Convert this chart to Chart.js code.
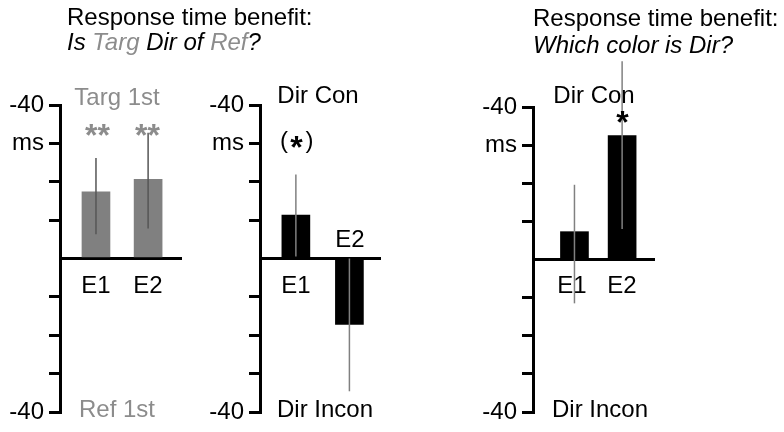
<!DOCTYPE html>
<html>
<head>
<meta charset="utf-8">
<script src="https://cdn.jsdelivr.net/npm/chart.js@4"></script>
<style>
    html, body { margin: 0; padding: 0; background: #fff; }
    #wrap { position: relative; width: 784px; height: 432px; }
    canvas { position: absolute; left: 0; top: 0; }
</style>
</head>
<body>
<div id="wrap">
    <canvas id="p1" width="784" height="432"></canvas>
    <canvas id="p2" width="784" height="432"></canvas>
    <canvas id="p3" width="784" height="432"></canvas>
</div>
<script>
const categories = ['E1', 'E2'];

// panel 1 - Is Targ Dir of Ref?
const targRefMeans = [17.4, 20.6];
const targRefLow = [6.3, 7.8];
const targRefHigh = [26.2, 32.8];

// panel 2 - Dir Con / Dir Incon
const dirMeans = [11.3, -17.2];
const dirLow = [0.5, -34.6];
const dirHigh = [21.9, 0];

// panel 3 - Which color is Dir?
const colorMeans = [7.3, 32.5];
const colorLow = [-11.5, 8.0];
const colorHigh = [19.6, 52.0];

const yTickValues = [40, 30, -40];
const yTickTexts = ['-40', 'ms', '-40'];

(function () {
    "use strict";

    const FONT = '"Liberation Sans", Arial, sans-serif';
    const GRAY = '#8c8c8c';

    // draws error bars and all the free text of a panel
    const panelDecor = {
        id: 'panelDecor',
        afterDraw(chart, args, o) {
            let ctx = chart.ctx;
            let y = chart.scales.y;
            let meta = chart.getDatasetMeta(0);
            ctx.save();
            ctx.strokeStyle = o.errColor;
            ctx.lineWidth = 1.5;
            meta.data.forEach((bar, i) => {
                ctx.beginPath();
                ctx.moveTo(bar.x, y.getPixelForValue(o.low[i]));
                ctx.lineTo(bar.x, y.getPixelForValue(o.high[i]));
                ctx.stroke();
            });

            ctx.textBaseline = 'alphabetic';
            o.texts.forEach(t => {
                let parts = t.parts || [[t.t, t.color || '#000']];
                ctx.font = (t.bold ? 'bold ' : '') + (t.italic ? 'italic ' : '') + (t.size || 24) + 'px ' + FONT;
                let total = parts.reduce((s, p) => s + ctx.measureText(p[0]).width, 0);
                let x = t.align === 'left' ? t.x : t.x - total / 2;
                ctx.textAlign = 'left';
                parts.forEach(p => {
                    ctx.fillStyle = p[1];
                    ctx.fillText(p[0], x, t.y);
                    x += ctx.measureText(p[0]).width;
                });
            });
            ctx.restore();
        }
    };

    function makePanel(canvasId, cfg) {
        return new Chart(document.getElementById(canvasId), {
            type: 'bar',
            data: {
                labels: categories,
                datasets: [{
                    data: cfg.means.map((v, i) => ({ x: i, y: v })),
                    backgroundColor: cfg.barColor,
                    borderWidth: 0,
                    barThickness: 28
                }]
            },
            options: {
                animation: false,
                responsive: false,
                layout: {
                    padding: { left: cfg.axisX - 60, right: 784 - cfg.endX, top: cfg.top, bottom: 20 }
                },
                plugins: {
                    legend: { display: false },
                    tooltip: { enabled: false },
                    panelDecor: { low: cfg.low, high: cfg.high, errColor: cfg.errColor, texts: cfg.texts }
                },
                scales: {
                    x: {
                        type: 'linear',
                        min: cfg.xMin,
                        max: cfg.xMax,
                        offset: false,
                        display: false
                    },
                    y: {
                        min: -40,
                        max: 40,
                        z: 1,
                        afterFit: s => { s.width = 60; },
                        border: { display: true, color: '#000', width: 3 },
                        grid: {
                            drawOnChartArea: true,
                            color: c => (c.tick && c.tick.value === 0) ? '#000' : 'rgba(0,0,0,0)',
                            lineWidth: 3,
                            tickColor: c => (c.tick && c.tick.value === 0) ? 'rgba(0,0,0,0)' : '#000',
                            tickLength: 11,
                            tickWidth: 3
                        },
                        ticks: {
                            stepSize: 10,
                            autoSkip: false,
                            padding: 5,
                            color: '#000',
                            font: { family: FONT, size: 24 },
                            callback: v => {
                                let k = yTickValues.indexOf(v);
                                return k >= 0 ? yTickTexts[k] : '';
                            }
                        }
                    }
                }
            },
            plugins: [panelDecor]
        });
    }

    makePanel('p1', {
        means: targRefMeans, low: targRefLow, high: targRefHigh,
        barColor: '#808080', errColor: '#555555',
        axisX: 60, endX: 182, top: 105, xMin: -0.69, xMax: 1.65,
        texts: [
            { t: 'Response time benefit:', x: 67, y: 25, align: 'left' },
            { parts: [['Is ', '#000'], ['Targ', GRAY], [' Dir of ', '#000'], ['Ref', GRAY], ['?', '#000']],
              x: 67, y: 50, align: 'left', italic: true },
            { t: 'Targ 1st', x: 117, y: 105, color: GRAY },
            { t: '**', x: 97.5, y: 146, color: GRAY, size: 32, bold: true },
            { t: '**', x: 147.5, y: 146, color: GRAY, size: 32, bold: true },
            { t: 'E1', x: 96, y: 293 },
            { t: 'E2', x: 148, y: 293 },
            { t: 'Ref 1st', x: 117, y: 417, color: GRAY }
        ]
    });

    makePanel('p2', {
        means: dirMeans, low: dirLow, high: dirHigh,
        barColor: '#000000', errColor: '#808080',
        axisX: 260, endX: 381, top: 105, xMin: -0.67, xMax: 1.59,
        texts: [
            { t: 'Dir Con', x: 318, y: 103 },
            { t: '(', x: 284, y: 148 },
            { t: '*', x: 296.5, y: 158, size: 32, bold: true },
            { t: ')', x: 309.5, y: 148 },
            { t: 'E1', x: 296, y: 293 },
            { t: 'E2', x: 350, y: 247 },
            { t: 'Dir Incon', x: 325, y: 417 }
        ]
    });

    makePanel('p3', {
        means: colorMeans, low: colorLow, high: colorHigh,
        barColor: '#000000', errColor: '#808080',
        axisX: 533, endX: 655, top: 107, xMin: -0.87, xMax: 1.69,
        texts: [
            { t: 'Response time benefit:', x: 533, y: 26, align: 'left' },
            { t: 'Which color is Dir?', x: 533, y: 53, align: 'left', italic: true },
            { t: 'Dir Con', x: 594, y: 103 },
            { t: '*', x: 622.5, y: 133, size: 32, bold: true },
            { t: 'E1', x: 572, y: 293 },
            { t: 'E2', x: 622, y: 293 },
            { t: 'Dir Incon', x: 600, y: 417 }
        ]
    });
})();
</script>
</body>
</html>
